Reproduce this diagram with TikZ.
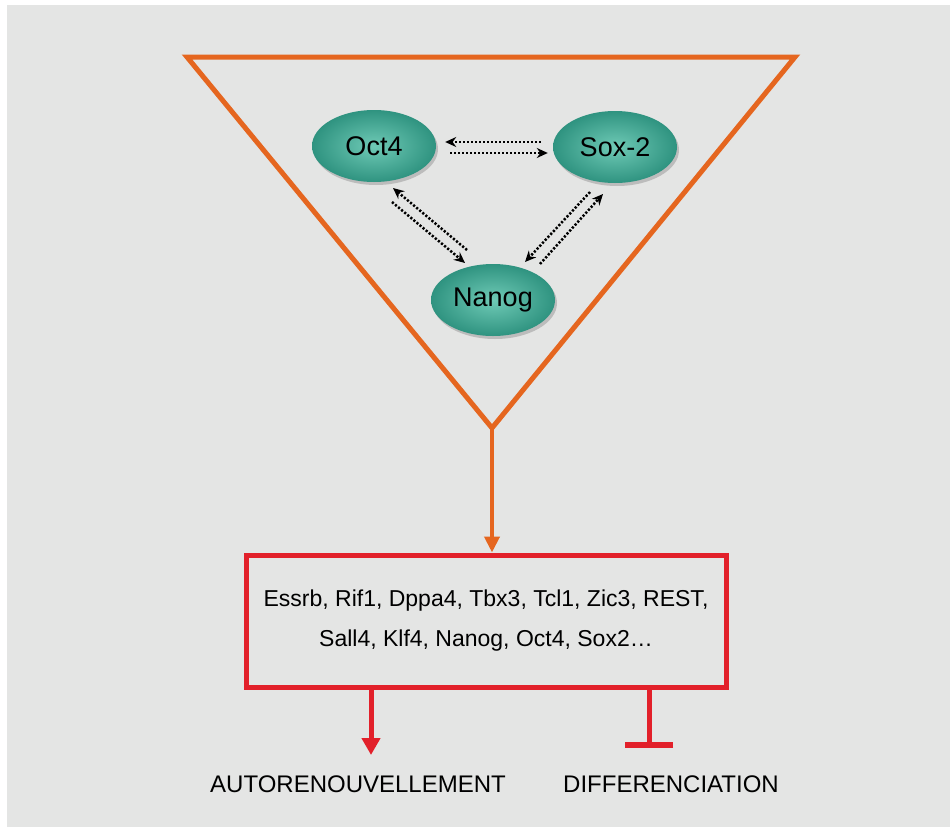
\documentclass[tikz,border=0pt]{standalone}
\usepackage{fontspec}
\setmainfont{Liberation Sans}
\definecolor{dncam}{HTML}{E5661F}
\definecolor{dndoco}{HTML}{E2202A}
\definecolor{dnngoc}{HTML}{6FCAB6}
\definecolor{dnngocdam}{HTML}{2F9380}
\definecolor{dnnen}{HTML}{E4E5E4}
\def\maucam{dncam}
\def\maudo{dndoco}
\def\maunen{dnnen}
\usetikzlibrary{shapes.geometric,arrows.meta,shadows,calc}

\begin{document}
\begin{tikzpicture}[x=1pt,y=-1pt,
		gen/.style={ellipse,minimum width=124pt,minimum height=72pt,inner sep=0pt,
			inner color=dnngoc,outer color=dnngocdam,
			drop shadow={shadow xshift=2pt,shadow yshift=-3pt,opacity=.4},
			font=\fontsize{27}{27}\selectfont},
		chamtro/.style={line width=2.5pt,dash pattern=on 2.2pt off 1.8pt,
			-{Stealth[length=11pt,width=10pt]}}]
		\useasboundingbox (0,0) rectangle (950,827);
		\fill[\maunen] (7,5) rectangle (950,827);
		% tam giac
		\draw[\maucam,line width=5pt,line join=miter] 
		(187,57) -- (795,57) -- (492,428) coordinate (dinh) -- cycle;
		\path (374,146) node[gen] (oct) {Oct4}
		(615,147) node[gen] (sox) {Sox-2}
		(493,300) node[gen] (nan) {Nanog};
		% mui ten cham
		\draw[chamtro] ($(sox.west)+(-12,-5)$) -- ($(oct.east)+(9,-4)$);
		\draw[chamtro] ($(oct.east)+(14,7)$) -- ($(sox.west)+(-5,6)$);
		\draw[chamtro] ($(nan)+(-26,-50)$) -- ($(oct)+(19,42)$);
		\draw[chamtro] ($(oct)+(18,56)$) -- ($(nan)+(-28,-37)$);
		\draw[chamtro] ($(nan)+(47,-36)$) -- ($(sox)+(-12,47)$);
		\draw[chamtro] ($(sox)+(-25,45)$) -- ($(nan)+(32,-38)$);
		% hop gen
		\path (486,621) node[draw=\maudo,line width=5pt,minimum width=480pt,minimum height=132pt,
		align=center,font=\fontsize{23}{40}\selectfont] (hop)
		{Essrb, Rif1, Dppa4, Tbx3, Tcl1, Zic3, REST,\\ Sall4, Klf4, Nanog, Oct4, Sox2\dots};
		\draw[\maucam,line width=4.5pt,-{Triangle[length=16pt,width=15pt]}] (dinh) -- (dinh |- hop.north);
		\path (371,755) coordinate (tu)
		(649,748) coordinate (ch);
		\draw[\maudo,line width=5pt,-{Triangle[length=17pt,width=18pt]}] (hop.south -| tu) -- (tu);
		\draw[\maudo,line width=5pt,-{Bar[width=48pt,line width=6pt]}] (hop.south -| ch) -- (ch);
		\path (358,784) node[font=\fontsize{24}{24}\selectfont] (auto) {AUTORENOUVELLEMENT}
		(671,784) node[font=\fontsize{24}{24}\selectfont] (diff) {DIFFERENCIATION};
	\end{tikzpicture}
\end{document}
